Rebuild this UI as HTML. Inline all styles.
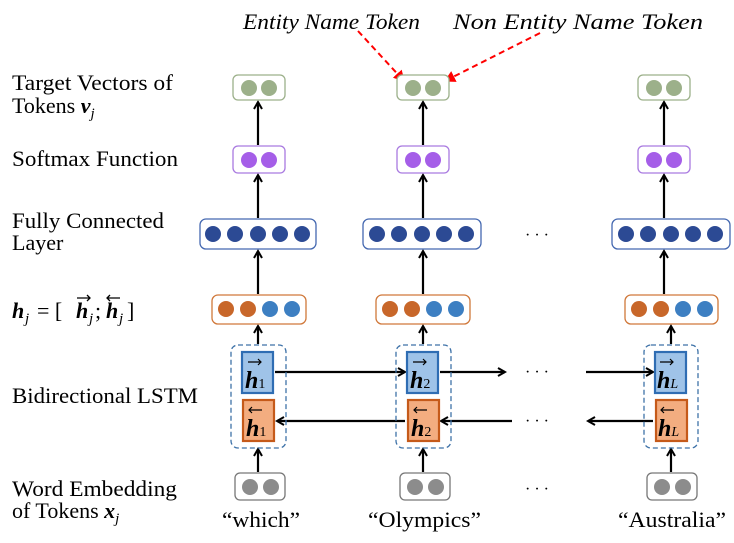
<!DOCTYPE html>
<html><head><style>body{margin:0;background:#fff}svg{display:block}</style></head><body>
<svg width="734" height="543" viewBox="0 0 734 543" xmlns="http://www.w3.org/2000/svg" font-family="Liberation Serif, serif">
<defs>
<marker id="a" markerWidth="10" markerHeight="10" refX="8" refY="5" orient="auto" markerUnits="userSpaceOnUse"><path d="M1,1 L8,5 L1,9" fill="none" stroke="#000" stroke-width="2"/></marker>
<marker id="r" markerWidth="12" markerHeight="12" refX="10" refY="6" orient="auto" markerUnits="userSpaceOnUse"><path d="M0,0 L11,6 L0,12 Z" fill="#f00"/></marker>
</defs>
<g font-size="22" fill="#000">
<text x="12" y="90" textLength="161" lengthAdjust="spacingAndGlyphs">Target Vectors of</text>
<text x="12" y="113">Tokens <tspan font-weight="bold" font-style="italic">v</tspan><tspan font-style="italic" font-size="15" dy="5">j</tspan></text>
<text x="12" y="166" textLength="166" lengthAdjust="spacingAndGlyphs">Softmax Function</text>
<text x="12" y="228" textLength="152" lengthAdjust="spacingAndGlyphs">Fully Connected</text>
<text x="12" y="250">Layer</text>
<text x="12" y="318" font-weight="bold" font-style="italic">h</text>
<text x="25" y="323" font-size="15" font-style="italic">j</text>
<text x="37" y="318">= [</text>
<text x="76" y="318" font-weight="bold" font-style="italic">h</text>
<text x="89" y="323" font-size="15" font-style="italic">j</text>
<text x="95" y="318">;</text>
<text x="106" y="318" font-weight="bold" font-style="italic">h</text>
<text x="119" y="323" font-size="15" font-style="italic">j</text>
<text x="127" y="318">]</text>
<text x="12" y="403" textLength="186" lengthAdjust="spacingAndGlyphs">Bidirectional LSTM</text>
<text x="12" y="496" textLength="165" lengthAdjust="spacingAndGlyphs">Word Embedding</text>
<text x="12" y="518">of Tokens <tspan font-weight="bold" font-style="italic">x</tspan><tspan font-style="italic" font-size="15" dy="5">j</tspan></text>
<text x="243" y="29" font-style="italic" textLength="177" lengthAdjust="spacingAndGlyphs">Entity Name Token</text>
<text x="453" y="29" font-style="italic" textLength="250" lengthAdjust="spacingAndGlyphs">Non Entity Name Token</text>
<text x="222" y="527" textLength="78" lengthAdjust="spacingAndGlyphs">“which”</text>
<text x="368" y="527" textLength="113" lengthAdjust="spacingAndGlyphs">“Olympics”</text>
<text x="618" y="527" textLength="108" lengthAdjust="spacingAndGlyphs">“Australia”</text>
</g>
<g stroke="#000" stroke-width="1.3" fill="none"><path d="M77,298 h13 M87,295 l3,3 -3,3"/><path d="M107,298 h13 M110,295 l-3,3 3,3"/></g>
<line x1="358" y1="31" x2="404" y2="81" stroke="#f00" stroke-width="2" stroke-dasharray="6,4" marker-end="url(#r)"/>
<line x1="540" y1="33" x2="445" y2="81" stroke="#f00" stroke-width="2" stroke-dasharray="6,4" marker-end="url(#r)"/>
<g fill="#000" font-size="16">
<text x="525" y="240">·  ·  ·</text><text x="525" y="377">·  ·  ·</text><text x="525" y="426">·  ·  ·</text><text x="525" y="494">·  ·  ·</text>
</g>
<g stroke="#000" stroke-width="2.2" marker-end="url(#a)">
<line x1="258" y1="145" x2="258" y2="102"/><line x1="258" y1="218" x2="258" y2="175"/><line x1="258" y1="294" x2="258" y2="251"/><line x1="258" y1="344" x2="258" y2="326"/><line x1="258" y1="472" x2="258" y2="449"/>
<line x1="423" y1="145" x2="423" y2="102"/><line x1="423" y1="218" x2="423" y2="175"/><line x1="423" y1="294" x2="423" y2="251"/><line x1="423" y1="344" x2="423" y2="326"/><line x1="423" y1="472" x2="423" y2="449"/>
<line x1="664" y1="145" x2="664" y2="102"/><line x1="664" y1="218" x2="664" y2="175"/><line x1="664" y1="294" x2="664" y2="251"/><line x1="671" y1="344" x2="671" y2="326"/><line x1="671" y1="472" x2="671" y2="449"/>
<line x1="275" y1="372" x2="405" y2="372"/><line x1="440" y1="372" x2="505" y2="372"/><line x1="586" y1="372" x2="653" y2="372"/>
<line x1="405" y1="421" x2="277" y2="421"/><line x1="512" y1="421" x2="441" y2="421"/><line x1="653" y1="421" x2="588" y2="421"/>
</g>
<g stroke-width="1.3">
<rect x="233" y="75" width="52" height="25" rx="5" fill="#fff" stroke="#9cb08a"/>
<rect x="397" y="75" width="52" height="25" rx="5" fill="#fff" stroke="#9cb08a"/>
<rect x="638" y="75" width="52" height="25" rx="5" fill="#fff" stroke="#9cb08a"/>
<rect x="233" y="146" width="52" height="27" rx="5" fill="#fff" stroke="#a97ae0"/>
<rect x="397" y="146" width="52" height="27" rx="5" fill="#fff" stroke="#a97ae0"/>
<rect x="638" y="146" width="52" height="27" rx="5" fill="#fff" stroke="#a97ae0"/>
<rect x="200" y="219" width="116" height="30" rx="6" fill="#fff" stroke="#4468b0"/>
<rect x="363" y="219" width="118" height="30" rx="6" fill="#fff" stroke="#4468b0"/>
<rect x="612" y="219" width="118" height="30" rx="6" fill="#fff" stroke="#4468b0"/>
<rect x="212" y="295" width="94" height="29" rx="6" fill="#fff" stroke="#d0783a"/>
<rect x="376" y="295" width="94" height="29" rx="6" fill="#fff" stroke="#d0783a"/>
<rect x="625" y="295" width="93" height="29" rx="6" fill="#fff" stroke="#d0783a"/>
<rect x="235" y="473" width="50" height="27" rx="5" fill="#fff" stroke="#777"/>
<rect x="400" y="473" width="50" height="27" rx="5" fill="#fff" stroke="#777"/>
<rect x="647" y="473" width="50" height="27" rx="5" fill="#fff" stroke="#777"/>
<rect x="231" y="345" width="55" height="103" rx="7" fill="none" stroke="#3e72a8" stroke-dasharray="5,3"/>
<rect x="396" y="345" width="55" height="103" rx="7" fill="none" stroke="#3e72a8" stroke-dasharray="5,3"/>
<rect x="644" y="345" width="54" height="103" rx="7" fill="none" stroke="#3e72a8" stroke-dasharray="5,3"/>
</g>
<g stroke-width="2.2">
<rect x="242" y="352" width="31" height="41" fill="#9fc3e8" stroke="#2f6db3"/>
<rect x="243" y="400" width="31" height="41" fill="#f3ad80" stroke="#c55a1a"/>
<rect x="407" y="352" width="31" height="41" fill="#9fc3e8" stroke="#2f6db3"/>
<rect x="408" y="400" width="31" height="41" fill="#f3ad80" stroke="#c55a1a"/>
<rect x="655" y="352" width="31" height="41" fill="#9fc3e8" stroke="#2f6db3"/>
<rect x="656" y="400" width="31" height="41" fill="#f3ad80" stroke="#c55a1a"/>
</g>
<g font-size="24" font-weight="bold" font-style="italic">
<text x="245" y="388">h<tspan font-size="14" font-weight="normal" font-style="normal">1</tspan></text>
<text x="246" y="436">h<tspan font-size="14" font-weight="normal" font-style="normal">1</tspan></text>
<text x="410" y="388">h<tspan font-size="14" font-weight="normal" font-style="normal">2</tspan></text>
<text x="411" y="436">h<tspan font-size="14" font-weight="normal" font-style="normal">2</tspan></text>
<text x="657" y="388">h<tspan font-size="14" font-weight="normal">L</tspan></text>
<text x="658" y="436">h<tspan font-size="14" font-weight="normal">L</tspan></text>
</g>
<g stroke="#000" stroke-width="1.2" fill="none">
<path d="M248,362 h13 M258,359 l3,3 -3,3"/><path d="M249,410 h13 M252,407 l-3,3 3,3"/>
<path d="M413,362 h13 M423,359 l3,3 -3,3"/><path d="M414,410 h13 M417,407 l-3,3 3,3"/>
<path d="M660,362 h13 M670,359 l3,3 -3,3"/><path d="M661,410 h13 M664,407 l-3,3 3,3"/>
</g>
<g>
<g fill="#9cb08a"><circle cx="249" cy="88" r="8"/><circle cx="269" cy="88" r="8"/><circle cx="413" cy="88" r="8"/><circle cx="433" cy="88" r="8"/><circle cx="654" cy="88" r="8"/><circle cx="674" cy="88" r="8"/></g>
<g fill="#a55ee8"><circle cx="249" cy="160" r="8"/><circle cx="269" cy="160" r="8"/><circle cx="413" cy="160" r="8"/><circle cx="433" cy="160" r="8"/><circle cx="654" cy="160" r="8"/><circle cx="674" cy="160" r="8"/></g>
<g fill="#2c4a94">
<circle cx="213" cy="234" r="8"/><circle cx="235" cy="234" r="8"/><circle cx="258" cy="234" r="8"/><circle cx="280" cy="234" r="8"/><circle cx="302" cy="234" r="8"/>
<circle cx="377" cy="234" r="8"/><circle cx="399" cy="234" r="8"/><circle cx="422" cy="234" r="8"/><circle cx="444" cy="234" r="8"/><circle cx="466" cy="234" r="8"/>
<circle cx="626" cy="234" r="8"/><circle cx="648" cy="234" r="8"/><circle cx="671" cy="234" r="8"/><circle cx="693" cy="234" r="8"/><circle cx="715" cy="234" r="8"/>
</g>
<g fill="#c8672a"><circle cx="226" cy="309" r="8"/><circle cx="248" cy="309" r="8"/><circle cx="390" cy="309" r="8"/><circle cx="412" cy="309" r="8"/><circle cx="639" cy="309" r="8"/><circle cx="661" cy="309" r="8"/></g>
<g fill="#3d7fc2"><circle cx="270" cy="309" r="8"/><circle cx="292" cy="309" r="8"/><circle cx="434" cy="309" r="8"/><circle cx="456" cy="309" r="8"/><circle cx="683" cy="309" r="8"/><circle cx="705" cy="309" r="8"/></g>
<g fill="#8c8c8c"><circle cx="250" cy="487" r="8"/><circle cx="271" cy="487" r="8"/><circle cx="415" cy="487" r="8"/><circle cx="436" cy="487" r="8"/><circle cx="662" cy="487" r="8"/><circle cx="683" cy="487" r="8"/></g>
</g>
</svg>
</body></html>
